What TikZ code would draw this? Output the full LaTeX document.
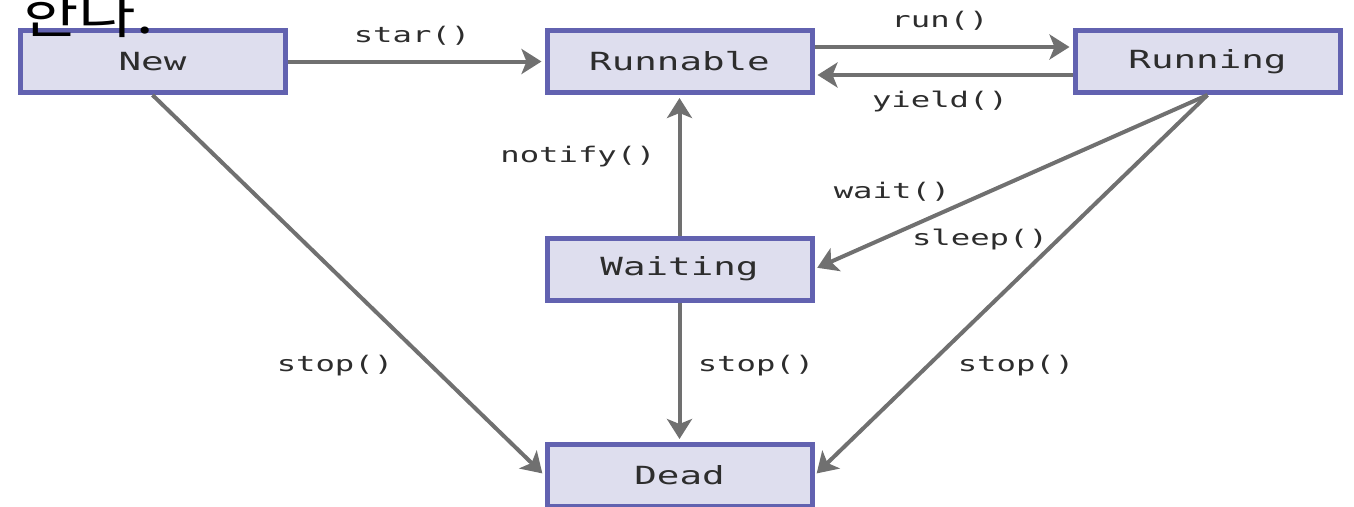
\documentclass[tikz,border=0pt]{standalone}
\usepackage{fontspec}
\usetikzlibrary{arrows.meta}
\newfontfamily\lblfont[FakeStretch=1.5]{DejaVu Sans Mono}
\newfontfamily\krfont[FakeStretch=1.2]{Noto Sans CJK KR}
\definecolor{boxfill}{RGB}{222,222,238}
\definecolor{boxline}{RGB}{98,98,176}
\definecolor{arrowgray}{RGB}{112,112,112}
\definecolor{txtgray}{RGB}{45,45,45}
\tikzset{
  statebox/.style={draw=boxline, fill=boxfill, line width=5pt, minimum width=265pt,
    minimum height=62pt, inner sep=0pt, font=\lblfont\fontsize{25}{25}\selectfont, text=txtgray},
  trans/.style={draw=arrowgray, line width=4pt,
    -{Stealth[length=20pt,width=25pt,inset=5pt]}, shorten >=3pt},
  tlabel/.style={font=\lblfont\fontsize{21.5}{21.5}\selectfont, text=txtgray, inner sep=0pt}
}
\begin{document}
\begin{tikzpicture}[x=1pt,y=-1pt]
\useasboundingbox (0,0) rectangle (1354,506);
\clip (0,0) rectangle (1354,506);
\node[statebox] (new) at (152.5,61.5) {New};
\node[statebox] (runnable) at (679.5,61.5) {Runnable};
\node[statebox] (running) at (1207.5,61.5) {Running};
\node[statebox] (waiting) at (679.5,269) {Waiting};
\node[statebox] (dead) at (679.5,475.5) {Dead};

\draw[trans] (new.east) -- (runnable.west);
\draw[trans] ([yshift=14.5pt]runnable.east) -- ([yshift=14.5pt]running.west);
\draw[trans] ([yshift=-13.5pt]running.west) -- ([yshift=-13.5pt]runnable.east);
\draw[trans] (waiting.north) -- (runnable.south);
\draw[trans] (running.south) -- (waiting.east);
\draw[trans] (running.south) -- (dead.east);
\draw[trans] (new.south) -- (dead.west);
\draw[trans] (waiting.south) -- (dead.north);

\node[tlabel] (lstar) at (412,36) {star()};
\node[tlabel] (lrun) at (940,21) {run()};
\node[tlabel] (lyield) at (940,102) {yield()};
\node[tlabel] (lnotify) at (578,157) {notify()};
\node[tlabel] (lwait) at (892,192) {wait()};
\node[tlabel] (lsleep) at (980,240) {sleep()};
\node[tlabel] (lstop1) at (335,366) {stop()};
\node[tlabel] (lstop2) at (756,366) {stop()};
\node[tlabel] (lstop3) at (1016,366) {stop()};

\node[font=\krfont\fontsize{52}{52}\selectfont, anchor=base west, inner sep=0pt] (kr) at (21,33) {한다.};
\end{tikzpicture}
\end{document}
